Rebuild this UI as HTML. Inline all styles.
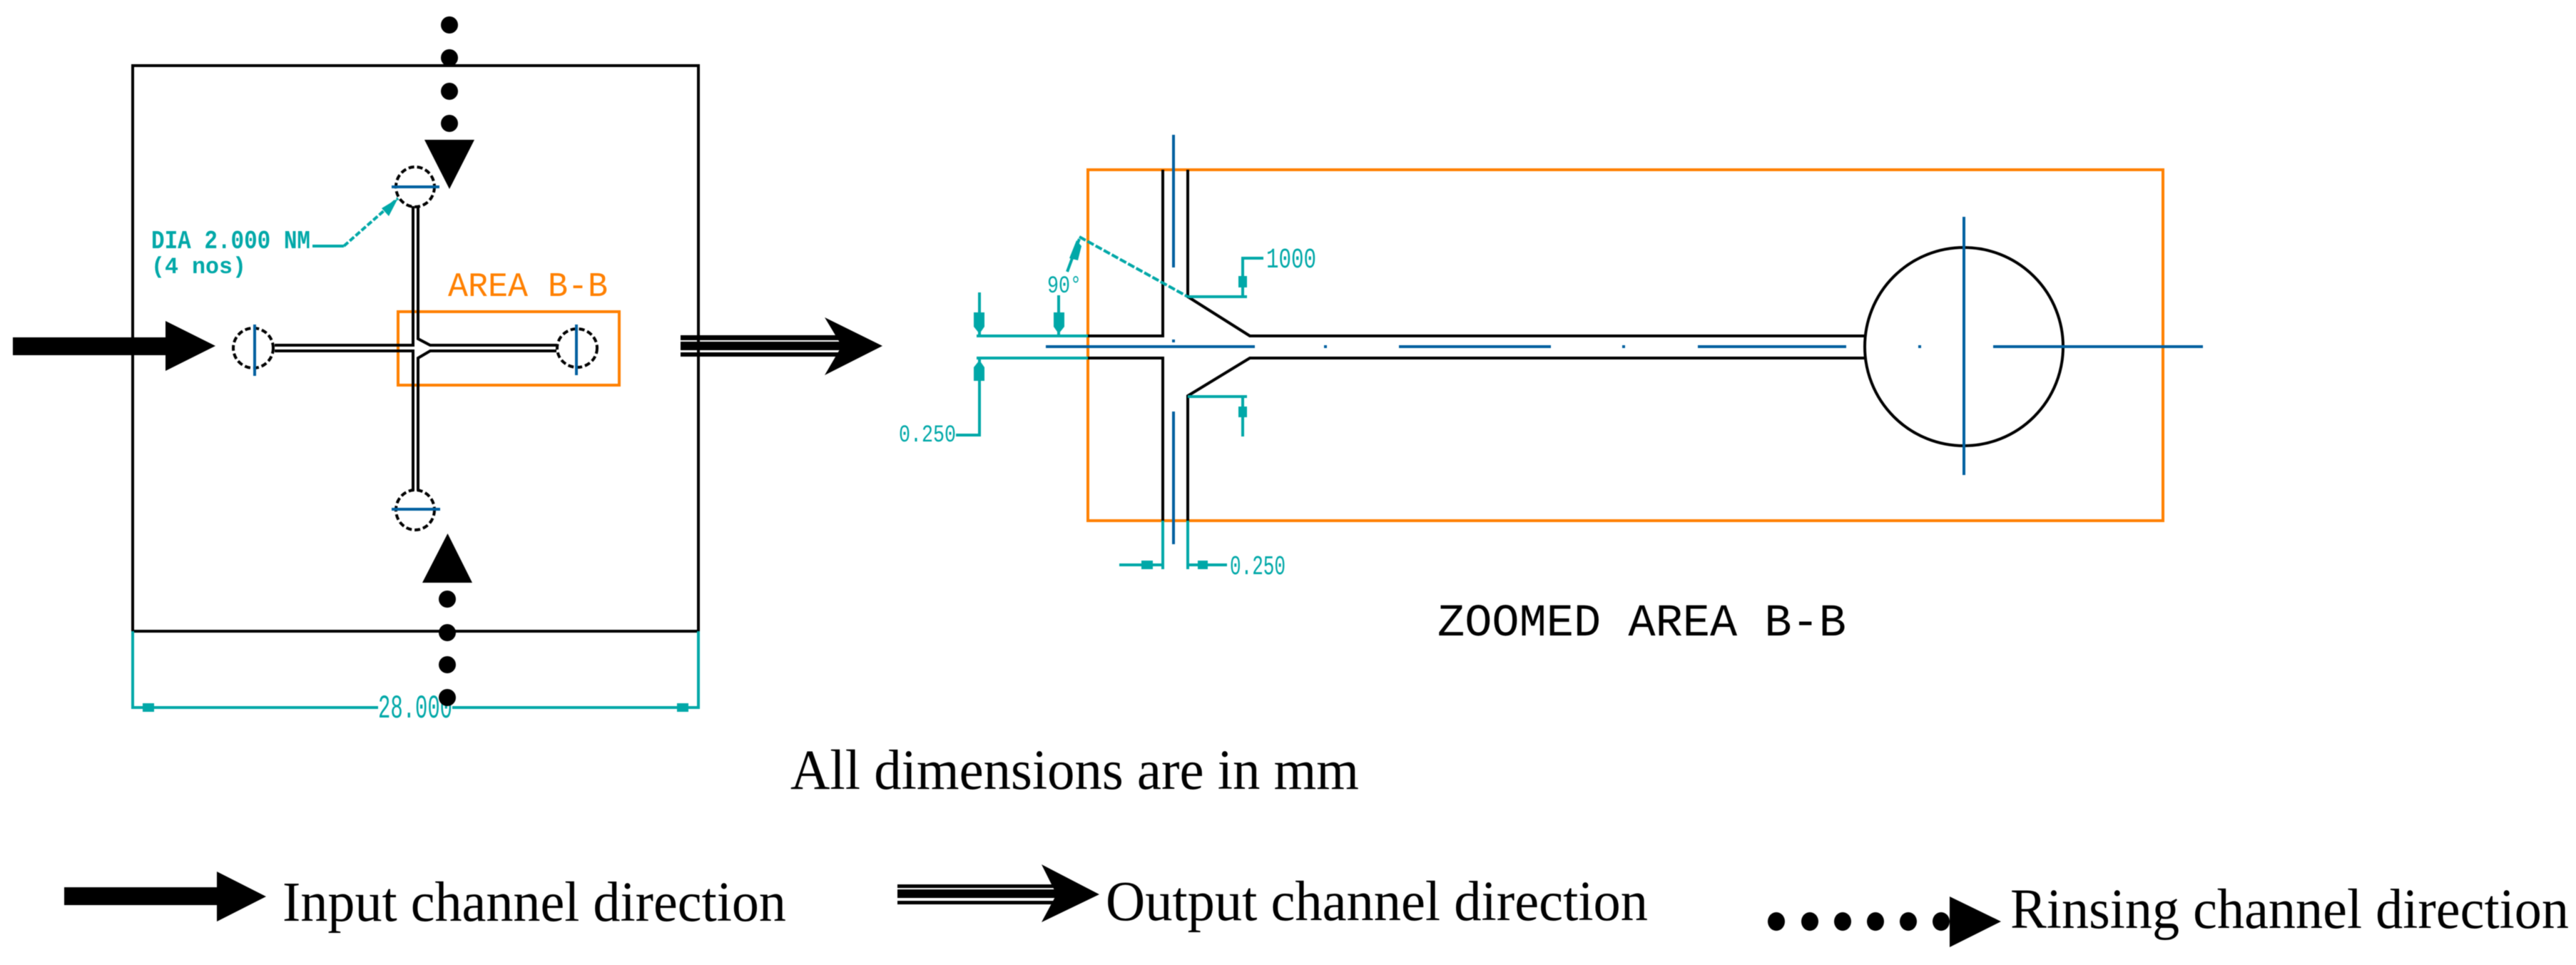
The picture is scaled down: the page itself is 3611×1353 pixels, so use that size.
<!DOCTYPE html>
<html><head><meta charset="utf-8"><style>
html,body{margin:0;padding:0;background:#fff;width:3611px;height:1353px;overflow:hidden}
svg{display:block;filter:blur(0.6px)}
.s{font-family:"Liberation Serif",serif;font-size:79px;fill:#000}
.m{font-family:"Liberation Mono",monospace}
.t{fill:#00a8a8}
.tl{stroke:#00a8a8;fill:none;stroke-width:4}
.k{stroke:#000;fill:none;stroke-width:4}
.b{stroke:#0060a0;fill:none;stroke-width:4}
.o{stroke:#ff8000;fill:none;stroke-width:4}
</style></head><body>
<svg width="3611" height="1353" viewBox="0 0 3611 1353" xmlns="http://www.w3.org/2000/svg">
<rect width="3611" height="1353" fill="#fff"/>

<!-- left plate -->
<rect x="186" y="92" width="793" height="793" class="k"/>
<!-- dimension -->
<path class="tl" d="M186 885V994M979 885V994M186 992H530M634 992H979"/>
<rect x="200" y="986" width="16" height="12" class="t"/>
<rect x="949" y="986" width="16" height="12" class="t"/>
<text x="530" y="1006" class="m t" font-size="46" textLength="104" lengthAdjust="spacingAndGlyphs">28.000</text>

<!-- orange box -->
<rect x="558" y="437" width="310" height="103" class="o"/>
<text x="628" y="415" class="m" fill="#ff8000" font-size="48" textLength="224" lengthAdjust="spacingAndGlyphs">AREA B-B</text>

<!-- channels -->
<path class="k" stroke-width="5" d="M579 289V484H385M385 492H579V688M586 289V475L603 484H780M780 492H603L586 502V688"/>
<!-- holes -->
<g class="k" stroke-dasharray="8 4">
<ellipse cx="582" cy="262" rx="27" ry="28"/>
<ellipse cx="582" cy="715" rx="27" ry="28"/>
<ellipse cx="355" cy="488" rx="28" ry="28"/>
<ellipse cx="809" cy="488" rx="28" ry="27"/>
</g>
<path class="b" d="M549 262H616M549 714H617M357 455V527M808 455V526"/>

<!-- DIA -->
<text x="212" y="348" class="m t" font-size="36" font-weight="bold" textLength="223" lengthAdjust="spacingAndGlyphs">DIA 2.000 NM</text>
<text x="212" y="383" class="m t" font-size="32" font-weight="bold" textLength="133" lengthAdjust="spacingAndGlyphs">(4 nos)</text>
<path class="tl" d="M438 345H482"/>
<path class="tl" stroke-dasharray="8 3" d="M482 345L558 278"/>
<path class="t" d="M558 278L535 292L545 303Z"/>

<!-- top rinsing -->
<g fill="#000">
<circle cx="630" cy="35" r="12"/><circle cx="630" cy="81" r="12"/><circle cx="630" cy="128" r="12"/><circle cx="630" cy="173" r="12"/>
<polygon points="595,196 665,196 630,265"/>
<polygon points="592,817 662,817 627.500,748"/>
<circle cx="627" cy="840" r="12"/><circle cx="627" cy="887" r="12"/><circle cx="627" cy="932" r="12"/><circle cx="627" cy="978" r="12"/>
<!-- input arrow -->
<rect x="18" y="473" width="214" height="25"/>
<polygon points="232,450 302,485 232,520"/>
<!-- output arrow -->
<rect x="954" y="470" width="226" height="7"/><rect x="954" y="479" width="226" height="12"/><rect x="954" y="494" width="226" height="6"/>
<polygon points="1156,445 1237,485 1156,526 1180,485"/>
</g>

<!-- right panel -->
<rect x="1525" y="238" width="1507" height="492" class="o"/>
<path class="k" d="M1525 471H1630V238M1665 238V416L1752 471H2616M2616 502H1752L1665 555V730M1630 730V502H1525"/>
<circle cx="2753" cy="486" r="139" class="k" stroke-width="3"/>
<path class="b" d="M1466 486H1759M1961 486H2174M2380 486H2588M2794 486H3088M1645 189V375M1645 577V763"/>
<path class="b" stroke-width="3" d="M2753 304V666"/>
<g fill="#0060a0"><rect x="1643" y="476" width="4" height="4"/><rect x="1856" y="484" width="4" height="4"/><rect x="2274" y="484" width="4" height="4"/><rect x="2689" y="484" width="4" height="4"/></g>

<!-- right dims -->
<path class="tl" d="M1369 471H1525M1369 502H1525M1373 410V471M1373 502V610H1340M1484 414V471"/>
<path class="tl" d="M1665 416H1748M1742 416V362H1771M1665 556H1748M1742 556V612"/>
<path class="tl" stroke-width="3" d="M1630 730V798M1665 730V798M1569 792H1630M1665 792H1720"/>
<path class="tl" stroke-width="3" stroke-dasharray="10 3" d="M1513 332L1665 416"/>
<path class="tl" stroke-width="3" d="M1496 381L1513 335"/>
<g class="t">
<rect x="1365" y="438" width="15" height="20"/><polygon points="1365,458 1380,458 1373,468"/>
<rect x="1477" y="438" width="15" height="20"/><polygon points="1477,458 1492,458 1484,468"/>
<rect x="1365" y="515" width="15" height="19"/><polygon points="1365,515 1380,515 1373,505"/>
<polygon points="1509,337 1516,345 1511,365 1499,362"/>
<rect x="1736" y="387" width="12" height="16"/>
<rect x="1736" y="570" width="12" height="15"/>
<rect x="1600" y="786" width="16" height="12"/>
<rect x="1679" y="786" width="14" height="12"/>
</g>
<text x="1468" y="410" class="m t" font-size="34" textLength="48" lengthAdjust="spacingAndGlyphs">90°</text>
<text x="1260" y="619" class="m t" font-size="34" textLength="80" lengthAdjust="spacingAndGlyphs">0.250</text>
<text x="1775" y="375" class="m t" font-size="40" textLength="70" lengthAdjust="spacingAndGlyphs">1000</text>
<text x="1724" y="805" class="m t" font-size="38" textLength="78" lengthAdjust="spacingAndGlyphs">0.250</text>
<text x="2015" y="891" class="m" fill="#000" font-size="64" textLength="573" lengthAdjust="spacingAndGlyphs">ZOOMED AREA B-B</text>

<!-- captions -->
<text x="1108" y="1106" class="s" textLength="797" lengthAdjust="spacingAndGlyphs">All dimensions are in mm</text>
<text x="396" y="1291" class="s" textLength="706" lengthAdjust="spacingAndGlyphs">Input channel direction</text>
<text x="1550" y="1290" class="s" textLength="760" lengthAdjust="spacingAndGlyphs">Output channel direction</text>
<text x="2818" y="1301" class="s" textLength="783" lengthAdjust="spacingAndGlyphs">Rinsing channel direction</text>

<g fill="#000">
<rect x="90" y="1244" width="214" height="25"/>
<polygon points="304,1222 373,1257 304,1292"/>
<rect x="1258" y="1240" width="224" height="5"/><rect x="1258" y="1247" width="224" height="12"/><rect x="1258" y="1263" width="224" height="5"/>
<polygon points="1460,1212 1541,1254 1460,1293 1481,1254"/>
<ellipse cx="2490" cy="1292" rx="12" ry="13"/><ellipse cx="2537" cy="1292" rx="12" ry="13"/><ellipse cx="2583" cy="1292" rx="12" ry="13"/><ellipse cx="2629" cy="1292" rx="12" ry="13"/><ellipse cx="2675" cy="1292" rx="12" ry="13"/><ellipse cx="2721" cy="1292" rx="12" ry="13"/>
<polygon points="2733,1257 2805,1292 2733,1328"/>
</g>
</svg>
</body></html>
